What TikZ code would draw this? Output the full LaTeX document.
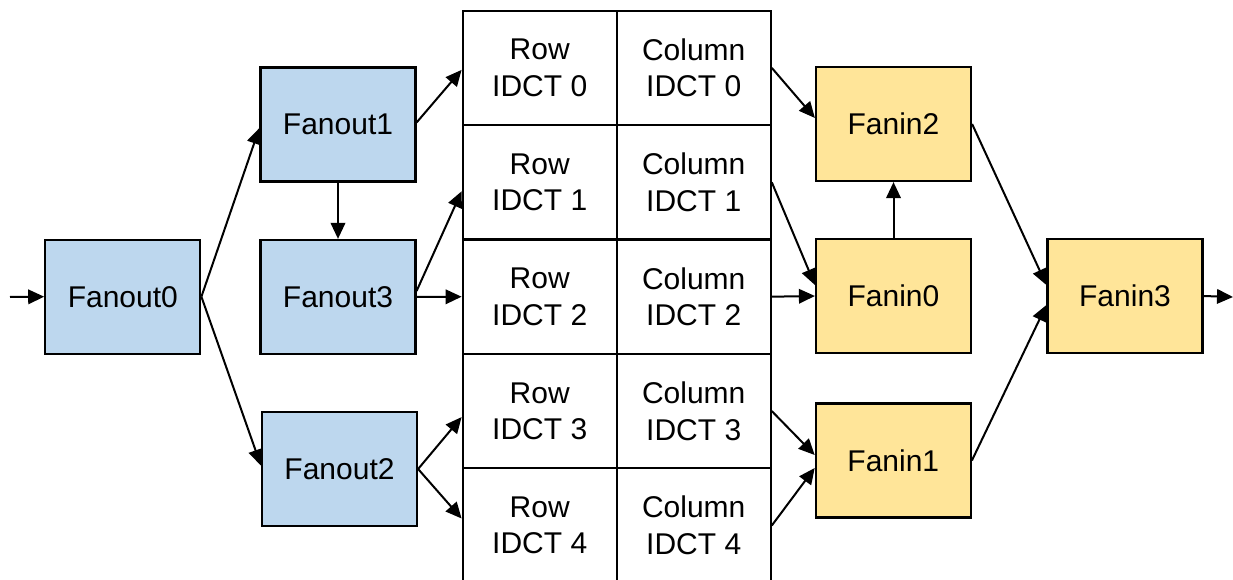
\documentclass[tikz,border=0pt]{standalone}
\usepackage{fontspec}
\setmainfont{Liberation Sans}
\usetikzlibrary{arrows.meta}
\definecolor{outblue}{HTML}{BDD7EE}
\definecolor{inyellow}{HTML}{FFE599}
\tikzset{
  stage/.style={draw=black, line width=2.2pt, minimum width=155pt, minimum height=114pt,
    inner sep=0pt, font=\fontsize{30}{36.5}\selectfont},
  fanout/.style={stage, fill=outblue},
  fanin/.style={stage, fill=inyellow},
  cell/.style={draw=black, line width=2.2pt, minimum width=154pt, minimum height=114.4pt,
    inner sep=0pt, align=center, font=\fontsize{30}{36.5}\selectfont},
  flow/.style={draw=black, line width=2pt, -{Triangle[length=16pt,width=14.5pt]}},
}
\begin{document}
\begin{tikzpicture}[x=1pt,y=-1pt]
\useasboundingbox (0,0) rectangle (1233,580);
\clip (0,0) rectangle (1233,580);

% fan-out stages
\node[fanout] (f0) at (122.8,296.7) {Fanout0};
\node[fanout] (f1) at (338,124.5) {Fanout1};
\node[fanout] (f3) at (338,297) {Fanout3};
\node[fanout] (f2) at (339.5,469) {Fanout2};

% IDCT grid: row pass and column pass
\foreach \i in {0,...,4} {
  \node[cell] (r\i) at (539.7,{67.9+114.4*\i}) {Row\\IDCT \i};
  \node[cell] (c\i) at (693.7,{67.9+114.4*\i}) {Column\\IDCT \i};
}

% fan-in stages
\node[fanin] (fi2) at (893.5,124) {Fanin2};
\node[fanin] (fi0) at (893.5,296) {Fanin0};
\node[fanin] (fi1) at (893.3,460.5) {Fanin1};
\node[fanin] (fi3) at (1125,296) {Fanin3};

% input and output terminals
\coordinate (in) at (10,297);
\coordinate (out) at (1233,297);

% connectors
\draw[flow] (in) -- (f0.west);
\draw[flow] (f0.east) -- ([yshift=-3.5pt]f1.west);
\draw[flow] (f0.east) -- ([yshift=3.5pt]f2.west);
\draw[flow] ([yshift=2pt]f1.east) -- ([yshift=-2pt]r0.west);
\draw[flow] (f1.south) -- (f3.north);
\draw[flow] ([yshift=6pt]f3.east) -- ([yshift=-9pt]r1.west);
\draw[flow] (f3.east) -- (r2.west);
\draw[flow] (f2.east) -- ([yshift=-6pt]r3.west);
\draw[flow] (f2.east) -- ([yshift=7pt]r4.west);

\draw[flow] (c0.east) -- ([yshift=6pt]fi2.west);
\draw[flow] (c1.east) -- ([yshift=11pt]fi0.west);
\draw[flow] (c2.east) -- (fi0.west);
\draw[flow] (c3.east) -- ([yshift=5.5pt]fi1.west);
\draw[flow] (c4.east) -- ([yshift=-7.5pt]fi1.west);
\draw[flow] (fi0.north) -- (fi2.south);
\draw[flow] (fi2.east) -- ([yshift=11pt]fi3.west);
\draw[flow] (fi1.east) -- ([yshift=-9pt]fi3.west);
\draw[flow] (fi3.east) -- (out);
\end{tikzpicture}
\end{document}
